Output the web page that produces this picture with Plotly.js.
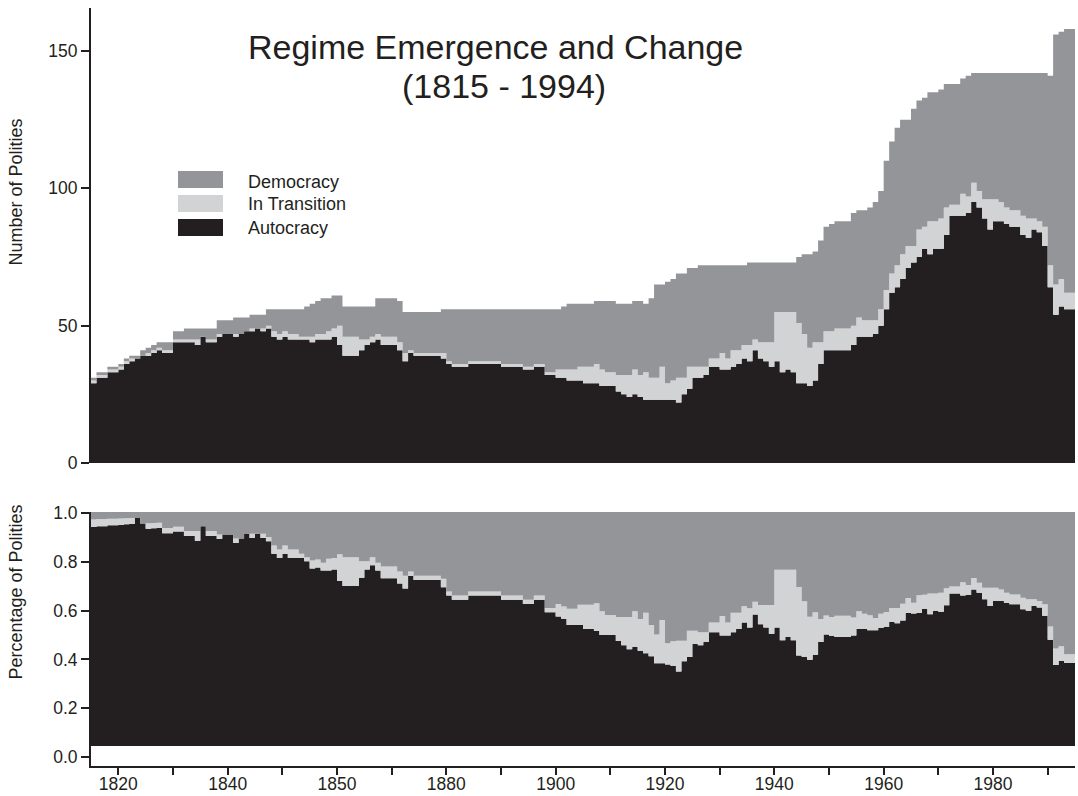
<!DOCTYPE html>
<html>
<head>
<meta charset="utf-8">
<script src="https://cdn.plot.ly/plotly-3.0.1.min.js"></script>
<style>
  html, body { margin: 0; padding: 0; background: #ffffff; }
  #chart { width: 1078px; height: 796px; }
</style>
</head>
<body>
<div id="chart"></div>
<script>
// Number of polities per year, 1815 - 1994
const firstYear = 1815;

const autocracy = [
  29,31,31,33,33,34,36,37,38,39,
  39,40,41,40,40,44,44,44,44,43,
  46,44,44,46,47,47,46,47,48,48,
  49,48,49,46,45,46,45,45,45,45,
  44,45,45,45,46,43,39,39,39,41,
  43,44,45,43,43,43,41,37,40,39,
  39,39,39,39,38,36,35,35,35,36,
  36,36,36,36,36,35,35,35,35,34,
  34,35,35,32,32,31,31,30,30,30,
  29,29,29,28,28,28,26,25,24,25,
  24,23,23,23,23,23,23,22,25,27,
  31,31,32,35,35,34,34,35,36,38,
  37,41,38,37,35,37,33,34,33,29,
  29,28,30,36,41,41,41,41,41,43,
  46,46,46,47,50,56,62,64,67,71,
  73,75,78,76,78,78,83,90,90,90,
  91,95,93,89,85,88,88,87,86,86,
  83,82,85,84,79,64,54,57,56,56
];

const transition = [
  1,1,1,1,1,1,1,1,0,0,
  1,1,1,1,1,1,1,1,1,2,
  0,1,1,1,0,0,1,0,0,1,
  0,1,1,2,2,2,2,2,1,1,
  2,2,2,3,3,7,7,7,7,4,
  2,2,2,3,3,3,3,3,1,1,
  1,1,1,1,2,1,1,1,1,1,
  1,1,1,1,1,1,1,1,1,1,
  1,1,1,1,1,3,3,4,4,5,
  6,6,7,6,5,5,6,7,8,9,
  8,10,8,8,12,6,7,9,6,8,
  4,4,3,3,3,6,4,6,5,5,
  6,4,6,7,9,18,22,21,22,22,
  18,14,14,8,7,7,8,8,8,7,
  7,6,6,5,6,7,7,8,9,8,
  6,10,8,12,10,11,10,4,4,8,
  6,7,6,7,11,8,7,6,6,6,
  7,7,4,4,7,8,11,10,6,6
];

const democracy = [
  1,1,1,1,1,1,1,1,1,2,
  2,2,2,3,3,3,3,4,4,4,
  3,4,4,5,5,5,6,6,5,5,
  5,5,6,8,9,8,9,9,10,11,
  12,12,13,12,12,11,11,11,11,12,
  12,11,13,14,14,14,15,15,14,15,
  15,15,15,15,16,19,20,20,20,19,
  19,19,19,19,19,20,20,20,20,21,
  21,20,20,23,23,22,23,24,24,23,
  23,23,23,25,26,26,26,26,26,25,
  27,25,29,34,30,37,37,38,38,36,
  36,37,37,34,34,32,34,31,31,29,
  30,28,29,29,29,18,18,18,18,24,
  29,34,33,37,38,39,39,39,39,41,
  39,40,41,43,43,47,48,50,49,46,
  50,47,47,47,47,47,45,44,44,42,
  44,40,43,46,46,46,47,49,50,50,
  52,53,53,54,56,69,91,90,96,96
];

const xTickVals = [1820,1830,1840,1850,1860,1870,1880,1890,1900,1910,1920,1930,1940,1950,1960,1970,1980,1990];
const xTickText = ['1820','','1840','','1850','','1880','','1900','','1920','','1940','','1960','','1980',''];
const countTickVals = [0,50,100,150];
const shareTickVals = [0,0.2,0.4,0.6,0.8,1.0];
const shareTickText = ['0.0','0.2','0.4','0.6','0.8','1.0'];

const seriesNames = ['Autocracy','In Transition','Democracy'];
const seriesColors = ['#231f20','#d1d3d4','#939598'];

// ---- layout helpers (pixel -> paper) ----
const W = 1078, H = 796;
const M = {l: 91, r: 3, t: 8, b: 30};
const PW = W - M.l - M.r, PH = H - M.t - M.b;
const px = x => (x - M.l) / PW;
const py = y => (H - M.b - y) / PH;

// lower panel: the filled shares run from y=746px (0) to y=512px (1),
// while the printed tick marks sit from y=757px (0.0) to y=513px (1.0)
const shareBasePx = 746, shareTopPx = 512, shareBottomPx = 766;
const sharePxPerUnit = shareBasePx - shareTopPx;
const tickZeroPx = 757, tickOnePx = 513;
const tickToData = v => (shareBasePx - (tickZeroPx - v * (tickZeroPx - tickOnePx))) / sharePxPerUnit;

// ---- build traces ----
const years = autocracy.map((_, i) => firstYear + i);
// each year is a step that lasts until the next year
const xs = years.concat([years[years.length - 1] + 1]);
const ext = a => a.concat([a[a.length - 1]]);

const totals = autocracy.map((a, i) => a + transition[i] + democracy[i]);
const share = arr => arr.map((v, i) => v / totals[i]);

const countSeries = [autocracy, transition, democracy];
const traces = [];
countSeries.forEach((s, k) => {
  traces.push({
    x: xs, y: ext(s), xaxis: 'x', yaxis: 'y',
    type: 'scatter', mode: 'lines', stackgroup: 'count',
    line: {width: 0, shape: 'hv', color: seriesColors[k]},
    fillcolor: seriesColors[k], name: seriesNames[k],
    hoverinfo: 'skip', showlegend: false
  });
});
countSeries.forEach((s, k) => {
  traces.push({
    x: xs, y: ext(share(s)), xaxis: 'x', yaxis: 'y2',
    type: 'scatter', mode: 'lines', stackgroup: 'share',
    line: {width: 0, shape: 'hv', color: seriesColors[k]},
    fillcolor: seriesColors[k], name: seriesNames[k],
    hoverinfo: 'skip', showlegend: false
  });
});

const ink = '#231f20';
const fontFam = 'Liberation Sans, Arial, Helvetica, sans-serif';

const axisCommon = {
  showline: true, linewidth: 2, linecolor: ink,
  ticks: 'outside', tickwidth: 2, tickcolor: ink,
  showgrid: false, zeroline: false,
  tickfont: {family: fontFam, size: 17.5, color: ink},
  fixedrange: true
};

const legendRows = [
  {name: 'Democracy', color: seriesColors[2], y0: 171, y1: 188, ty: 181.5},
  {name: 'In Transition', color: seriesColors[1], y0: 195, y1: 212, ty: 204.5},
  {name: 'Autocracy', color: seriesColors[0], y0: 219, y1: 236, ty: 227.5}
];

const shapes = legendRows.map(r => ({
  type: 'rect', xref: 'paper', yref: 'paper',
  x0: px(178), x1: px(223), y0: py(r.y1), y1: py(r.y0),
  fillcolor: r.color, line: {width: 0}, layer: 'above'
}));

const annotations = [
  {text: 'Regime Emergence and Change', x: px(495), y: py(46.5),
   font: {family: fontFam, size: 34, color: ink}},
  {text: '(1815 - 1994)', x: px(503.5), y: py(85.5),
   font: {family: fontFam, size: 34, color: ink}},
  {text: 'Number of Polities', x: px(15.5), y: py(192), textangle: -90,
   font: {family: fontFam, size: 18, color: ink}},
  {text: 'Percentage of Polities', x: px(15), y: py(592.5), textangle: -90,
   font: {family: fontFam, size: 18, color: ink}}
].map(a => Object.assign({xref: 'paper', yref: 'paper', showarrow: false,
                          xanchor: 'center', yanchor: 'middle'}, a));

legendRows.forEach(r => annotations.push({
  text: r.name, xref: 'paper', yref: 'paper', x: px(246), y: py(r.ty),
  xanchor: 'left', yanchor: 'middle', showarrow: false,
  font: {family: fontFam, size: 18, color: ink}
}));

const layout = {
  width: W, height: H,
  margin: {l: M.l, r: M.r, t: M.t, b: M.b, pad: 0},
  paper_bgcolor: '#ffffff', plot_bgcolor: '#ffffff',
  showlegend: false,
  font: {family: fontFam, size: 17.5, color: ink},
  xaxis: Object.assign({}, axisCommon, {
    domain: [0, 1], anchor: 'y2', range: [1815, 1995],
    tickmode: 'array', tickvals: xTickVals, ticktext: xTickText, ticklen: 7,
    ticklabelstandoff: -6
  }),
  yaxis: Object.assign({}, axisCommon, {
    domain: [py(463), 1], anchor: 'x', range: [0, (463 - 8) / 2.747],
    tickmode: 'array', tickvals: countTickVals, ticklen: 8
  }),
  yaxis2: Object.assign({}, axisCommon, {
    domain: [0, py(shareTopPx)], anchor: 'x',
    range: [-(shareBottomPx - shareBasePx) / sharePxPerUnit, 1],
    tickmode: 'array', tickvals: shareTickVals.map(tickToData), ticktext: shareTickText, ticklen: 8
  }),
  shapes: shapes,
  annotations: annotations
};

Plotly.newPlot('chart', traces, layout, {staticPlot: true, displayModeBar: false});
</script>
</body>
</html>
